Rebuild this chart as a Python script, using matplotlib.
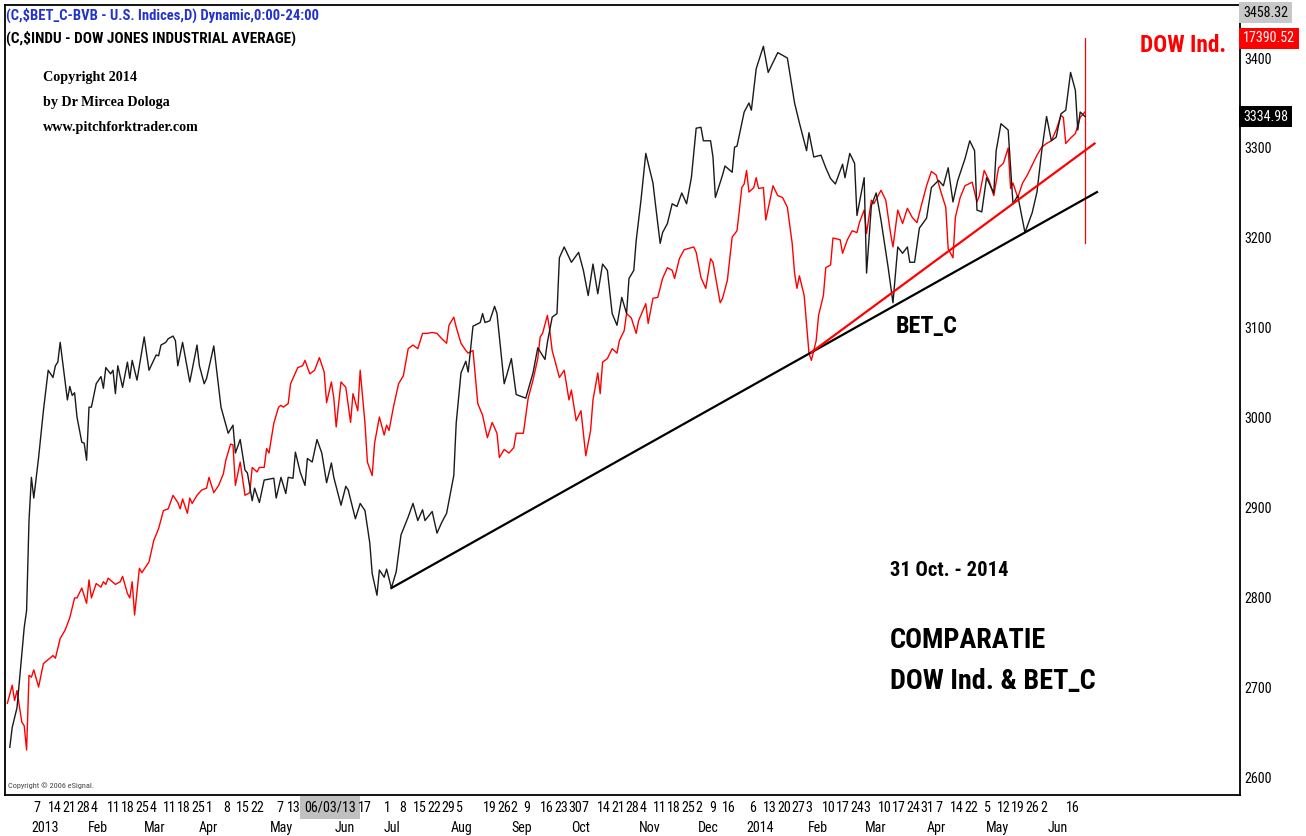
import os
import matplotlib
matplotlib.use("Agg")
import matplotlib.pyplot as plt
import matplotlib.transforms as mtrans
from matplotlib import font_manager
from matplotlib.font_manager import FontProperties

# ---------------- fonts: prefer a narrow sans (Arial Narrow look), else Liberation Sans ----------------
_files = font_manager.findSystemFonts()


def _pick(cands):
    low = {os.path.basename(f).lower(): f for f in _files}
    for c in cands:
        if c.lower() in low:
            return low[c.lower()]
    return None


_reg = _pick(['LiberationSansNarrow-Regular.ttf', 'RobotoCondensed-Regular.ttf', 'Roboto_Condensed-Regular.ttf',
              'NotoSans-Condensed.ttf', 'OpenSans-CondensedRegular.ttf', 'OpenSans_Condensed-Regular.ttf'])
_bold = _pick(['LiberationSansNarrow-Bold.ttf', 'RobotoCondensed-Bold.ttf', 'Roboto_Condensed-Bold.ttf',
               'NotoSans-CondensedBold.ttf', 'OpenSans-CondensedBold.ttf', 'OpenSans_Condensed-Bold.ttf'])


def narrow(bold=False):
    if bold and _bold:
        return FontProperties(fname=_bold)
    if (not bold) and _reg:
        return FontProperties(fname=_reg)
    return FontProperties(family=['Liberation Sans', 'DejaVu Sans'], weight='bold' if bold else 'normal')


def serif_bold():
    return FontProperties(family=['Liberation Serif', 'DejaVu Serif'], weight='bold')


# ---------------- data (bar index, index value on the BET_C scale) ----------------
bet_x = [2, 3, 5, 8, 9, 10, 11, 12, 14, 16, 18, 20, 21, 22, 23, 26, 27, 28, 29, 30,
         32, 33, 34, 35, 36, 38, 40, 41, 42, 44, 45, 46, 47, 49, 51, 52, 53, 55, 58, 60,
         63, 64, 65, 67, 68, 70, 71, 72, 74, 77, 80, 81, 83, 84, 87, 90, 93, 95, 96, 98,
         100, 101, 103, 104, 106, 108, 112, 113, 115, 117, 118, 120, 121, 123, 125, 126, 128, 130, 132, 134,
         136, 137, 140, 142, 143, 146, 148, 150, 152, 153, 155, 156, 158, 159, 161, 163, 165, 168, 170, 172,
         174, 175, 178, 180, 182, 184, 187, 188, 190, 192, 193, 195, 198, 199, 200, 202, 204, 205, 208, 209,
         211, 213, 217, 220, 222, 225, 226, 228, 230, 231, 233, 236, 239, 241, 243, 245, 247, 249, 251, 253,
         255, 257, 259, 260, 262, 263, 265, 267, 270, 271, 273, 274, 276, 278, 280, 282, 284, 286, 288, 290,
         291, 294, 295, 296, 299, 300, 303, 304, 305, 308, 310, 311, 313, 316, 318, 322, 324, 326, 329, 331,
         334, 335, 337, 340, 342, 344, 346, 349, 350, 352, 354, 355, 358, 359, 361, 363, 365, 368, 370, 372,
         374, 376, 377, 379, 381, 384, 386, 389, 391, 393, 395, 397, 400, 402, 404, 405, 407, 409, 412, 413,
         415, 418, 420, 422, 425, 428, 430, 432, 434, 436, 438, 440, 442, 444, 446, 447, 448, 450]
bet_v = [2634, 2656, 2678, 2767, 2786, 2886, 2934, 2911, 2956, 3008, 3053, 3045, 3058, 3062, 3084, 3020, 3035, 3025, 3028, 3001,
         2973, 2972, 2953, 3012, 3012, 3038, 3046, 3033, 3056, 3049, 3053, 3027, 3058, 3034, 3062, 3044, 3064, 3042, 3090, 3053,
         3070, 3069, 3081, 3084, 3088, 3091, 3086, 3058, 3084, 3040, 3081, 3058, 3038, 3044, 3080, 3012, 2983, 2992, 2961, 2976,
         2942, 2939, 2908, 2922, 2906, 2931, 2933, 2911, 2934, 2916, 2934, 2933, 2962, 2940, 2925, 2955, 2951, 2976, 2961, 2928,
         2950, 2934, 2903, 2924, 2920, 2888, 2905, 2897, 2861, 2827, 2803, 2831, 2823, 2832, 2811, 2829, 2870, 2890, 2905, 2886,
         2898, 2886, 2896, 2872, 2884, 2894, 2936, 2994, 3050, 3063, 3051, 3102, 3106, 3116, 3106, 3108, 3124, 3116, 3038, 3047,
         3066, 3026, 3022, 3050, 3078, 3065, 3084, 3112, 3116, 3178, 3190, 3173, 3184, 3164, 3136, 3171, 3138, 3171, 3164, 3116,
         3103, 3134, 3116, 3155, 3164, 3197, 3242, 3294, 3261, 3238, 3194, 3206, 3216, 3238, 3235, 3250, 3238, 3267, 3322, 3323,
         3308, 3308, 3290, 3245, 3270, 3280, 3273, 3301, 3302, 3340, 3350, 3342, 3388, 3413, 3384, 3406, 3403, 3400, 3350, 3328,
         3297, 3317, 3290, 3292, 3278, 3266, 3260, 3282, 3267, 3294, 3283, 3225, 3267, 3161, 3236, 3250, 3220, 3167, 3128, 3190,
         3183, 3190, 3173, 3173, 3211, 3222, 3256, 3264, 3258, 3278, 3240, 3264, 3288, 3308, 3297, 3231, 3229, 3267, 3250, 3297,
         3327, 3320, 3238, 3247, 3206, 3228, 3251, 3297, 3335, 3308, 3312, 3338, 3342, 3384, 3364, 3320, 3340, 3335]

dow_x = [1, 3, 4, 5, 7, 8, 9, 10, 11, 12, 14, 16, 20, 21, 23, 25, 27, 29, 30, 32,
         34, 35, 36, 38, 40, 41, 42, 43, 46, 48, 49, 51, 52, 53, 54, 56, 57, 60, 62, 64,
         66, 68, 70, 72, 73, 74, 76, 77, 78, 80, 82, 84, 85, 87, 89, 91, 92, 94, 95, 96,
         98, 100, 102, 103, 105, 106, 108, 109, 110, 112, 114, 115, 116, 118, 119, 120, 122, 124, 125, 127,
         129, 131, 133, 134, 136, 137, 138, 140, 142, 144, 145, 147, 148, 150, 151, 153, 154, 156, 158, 159,
         160, 162, 164, 166, 168, 170, 172, 174, 176, 178, 180, 182, 184, 185, 187, 188, 190, 192, 193, 195,
         197, 199, 201, 203, 205, 206, 208, 210, 212, 213, 216, 218, 220, 222, 223, 224, 226, 227, 228, 231,
         233, 235, 236, 238, 240, 242, 244, 245, 247, 248, 249, 251, 253, 255, 256, 258, 259, 261, 263, 264,
         267, 268, 270, 272, 274, 276, 278, 279, 281, 283, 287, 288, 290, 292, 294, 295, 298, 299, 301, 303,
         305, 306, 307, 308, 309, 310, 312, 313, 314, 316, 317, 320, 322, 324, 326, 328, 329, 330, 331, 333,
         335, 336, 338, 339, 341, 342, 344, 345, 348, 349, 351, 353, 355, 356, 358, 359, 361, 362, 365, 367,
         369, 370, 372, 374, 376, 378, 380, 382, 384, 386, 388, 390, 392, 393, 395, 396, 398, 400, 403, 405,
         406, 408, 410, 412, 414, 416, 418, 419, 420, 422, 424, 426, 428, 430, 432, 434, 436, 438, 440, 441,
         442, 444, 446, 448, 450]
dow_v = [2683, 2703, 2686, 2697, 2662, 2658, 2631, 2714, 2712, 2720, 2701, 2727, 2736, 2733, 2755, 2764, 2778, 2800, 2800, 2811,
         2794, 2820, 2800, 2816, 2812, 2818, 2815, 2822, 2815, 2818, 2824, 2805, 2800, 2818, 2781, 2833, 2828, 2840, 2864, 2877,
         2897, 2899, 2914, 2906, 2899, 2910, 2894, 2911, 2905, 2914, 2920, 2922, 2934, 2917, 2925, 2938, 2953, 2971, 2970, 2925,
         2951, 2914, 2917, 2945, 2940, 2945, 2945, 2966, 2961, 2994, 3012, 3014, 3012, 3016, 3038, 3044, 3056, 3058, 3064, 3049,
         3053, 3067, 3051, 3017, 3040, 3022, 2990, 3040, 3034, 2995, 3027, 3008, 3053, 2994, 2951, 2936, 2972, 3001, 2981, 2992,
         2986, 3014, 3038, 3047, 3077, 3081, 3077, 3094, 3094, 3095, 3094, 3088, 3083, 3103, 3112, 3101, 3083, 3075, 3072, 3075,
         3016, 3003, 2978, 2995, 2983, 2956, 2965, 2961, 2967, 2983, 2983, 3022, 3042, 3066, 3090, 3094, 3114, 3097, 3075, 3045,
         3053, 3020, 3031, 2997, 3008, 2958, 2986, 3020, 3050, 3027, 3062, 3066, 3077, 3072, 3086, 3097, 3116, 3111, 3094, 3108,
         3127, 3105, 3133, 3134, 3155, 3167, 3164, 3155, 3177, 3187, 3190, 3184, 3156, 3144, 3177, 3173, 3128, 3133, 3153, 3201,
         3208, 3231, 3256, 3260, 3275, 3251, 3256, 3267, 3255, 3256, 3220, 3258, 3247, 3245, 3234, 3194, 3161, 3144, 3158, 3136,
         3072, 3064, 3086, 3114, 3136, 3167, 3170, 3200, 3198, 3183, 3198, 3208, 3206, 3217, 3231, 3205, 3242, 3238, 3253, 3242,
         3205, 3190, 3231, 3216, 3233, 3223, 3217, 3238, 3258, 3274, 3270, 3251, 3234, 3188, 3178, 3223, 3245, 3258, 3262, 3240,
         3247, 3275, 3264, 3247, 3278, 3283, 3300, 3255, 3261, 3245, 3261, 3270, 3281, 3292, 3301, 3305, 3308, 3320, 3336, 3334,
         3305, 3311, 3316, 3334, 3340]

# trend lines (bar, value) end points
bet_trend_x = [161, 455]
bet_trend_v = [2811, 3251]
dow_trend_x = [336, 454]
dow_trend_v = [3073, 3305]
cursor_x = 450
cursor_v = [3194, 3422]

y_ticks = [2600, 2700, 2800, 2900, 3000, 3100, 3200, 3300, 3400]
bet_high = 3458.32
bet_last = 3334.98
dow_last = 17390.52
dow_last_level = 3422

day_labels = ['7', '14', '21', '28', '4', '11', '18', '25', '4', '11', '18', '25', '1', '8', '15', '22',
              '7', '13', '06/03/13', '17', '1', '8', '15', '22', '29', '5', '19', '26', '2', '9',
              '16', '23', '30', '7', '14', '21', '28', '4', '11', '18', '25', '2', '9', '16', '6',
              '13', '20', '27', '3', '10', '17', '24', '3', '10', '17', '24', '31', '7', '14', '22',
              '5', '12', '19', '26', '2', '16']
day_pos = [13.3, 20.8, 26.7, 32.5, 37.1, 45.4, 51.3, 57.1, 61.7, 68.75, 74.6, 80.4, 85.0, 92.5, 99.2, 105.0,
           114.6, 120.4, 135.4, 150.0, 159.2, 165.8, 172.9, 178.75, 184.6, 189.2, 202.1, 207.9, 212.1, 217.5,
           225.8, 231.7, 237.5, 241.7, 249.6, 255.4, 261.25, 265.8, 272.9, 278.75, 284.6, 289.2, 295.0, 301.7, 311.7,
           318.75, 324.6, 330.4, 335.0, 343.3, 349.2, 355.0, 359.2, 366.7, 372.5, 378.3, 384.2, 389.2, 396.7, 402.5,
           409.2, 416.25, 422.1, 427.9, 432.9, 445.0]
month_labels = ['2013', 'Feb', 'Mar', 'Apr', 'May', 'Jun', 'Jul', 'Aug', 'Sep', 'Oct', 'Nov', 'Dec',
                '2014', 'Feb', 'Mar', 'Apr', 'May', 'Jun']
month_pos = [16.7, 38.75, 62.5, 84.6, 115.4, 141.7, 161.25, 190.4, 215.4, 240.0, 268.75, 292.9,
             314.6, 338.75, 362.9, 387.9, 413.75, 438.75]

# ---------------- figure ----------------
W, H = 1306, 836
fig = plt.figure(figsize=(W / 100, H / 100), dpi=100)
fig.patch.set_facecolor('white')
ax = fig.add_axes([5 / W, 1 - 795 / H, 1235 / W, 790 / H])
ax.set_xlim(0, 514.6)
ax.set_ylim(2581, 3458.9)
renderer = fig.canvas.get_renderer()


def fit(t, target_px):
    w = t.get_window_extent(renderer).width
    if w > 0:
        t.set_fontsize(t.get_fontsize() * target_px / w)
    return t.get_fontsize()


RED = '#ff0000'
ax.plot(dow_x, dow_v, color=RED, lw=1.0, zorder=3)
ax.plot(bet_x, bet_v, color='#1a1a1a', lw=1.0, zorder=4)
ax.plot(bet_trend_x, bet_trend_v, color='black', lw=1.6, zorder=5)
ax.plot(dow_trend_x, dow_trend_v, color=RED, lw=1.6, zorder=5)
ax.plot([cursor_x, cursor_x], cursor_v, color=RED, lw=0.9, zorder=2)

for s in ax.spines.values():
    s.set_linewidth(1.3)
    s.set_color('black')

# size of axis label font: "3400" is about 28 px wide in the reference
probe = fig.text(0, 0, '3400', fontproperties=narrow(), fontsize=11)
tick_size = fit(probe, 28)
probe.remove()

# right axis labels
ax.yaxis.tick_right()
ax.set_yticks(y_ticks)
ax.set_yticklabels([str(t) for t in y_ticks])
for lbl in ax.get_yticklabels():
    lbl.set_fontproperties(narrow())
    lbl.set_fontsize(tick_size)
ax.tick_params(axis='y', length=0, pad=3)

trY = mtrans.blended_transform_factory(ax.transAxes, ax.transData)
xr = 1 + 3 / 1235
ax.text(xr, bet_high, f'{bet_high:.2f}', transform=trY, ha='left', va='top', fontproperties=narrow(),
        fontsize=tick_size, color='black', bbox=dict(facecolor='#c8c8c8', edgecolor='none', pad=2.5), clip_on=False)
ax.text(xr, dow_last_level, f'{dow_last:.2f}', transform=trY, ha='left', va='center', fontproperties=narrow(),
        fontsize=tick_size, color='white', bbox=dict(facecolor=RED, edgecolor='none', pad=2.5), clip_on=False)
ax.text(xr, bet_last, f'{bet_last:.2f}', transform=trY, ha='left', va='center', fontproperties=narrow(),
        fontsize=tick_size, color='white', bbox=dict(facecolor='black', edgecolor='none', pad=2.5), clip_on=False)

# bottom axis labels
ax.xaxis.remove_overlapping_locs = False
ax.set_xticks(day_pos)
ax.set_xticklabels(day_labels)
ax.set_xticks(month_pos, minor=True)
ax.set_xticklabels(month_labels, minor=True)
for lbl in ax.get_xticklabels() + ax.get_xticklabels(minor=True):
    lbl.set_fontproperties(narrow())
    lbl.set_fontsize(tick_size)
ax.tick_params(axis='x', which='major', length=0, pad=4)
ax.tick_params(axis='x', which='minor', length=0, pad=19)
for lbl in ax.get_xticklabels():
    if lbl.get_text() == '06/03/13':
        lbl.set_bbox(dict(facecolor='#c0c0c0', edgecolor='none', pad=3))

# header texts
h1 = fig.text(6 / W, 1 - 15 / H, r'(C,\$BET_C-BVB - U.S. Indices,D) Dynamic,0:00-24:00', color='#2233cc',
              fontproperties=narrow(True), fontsize=11, va='center', ha='left')
fit(h1, 311)
h2 = fig.text(6 / W, 1 - 38 / H, r'(C,\$INDU - DOW JONES INDUSTRIAL AVERAGE)', color='black',
              fontproperties=narrow(True), fontsize=11, va='center', ha='left')
fit(h2, 290)

copy_lines = ['Copyright 2014', 'by Dr Mircea Dologa', 'www.pitchforktrader.com']
copy_texts = [fig.text(43 / W, 1 - (78 + 24.5 * i) / H, line, fontproperties=serif_bold(), fontsize=11.5,
                       va='center', ha='left') for i, line in enumerate(copy_lines)]
cs = fit(copy_texts[2], 156)
for t in copy_texts:
    t.set_fontsize(cs)

es = fig.text(8 / W, 1 - 786 / H, 'Copyright \u00a9 2006 eSignal.', fontproperties=narrow(), fontsize=6,
              color='#444444', va='center', ha='left')
fit(es, 86)

t = fig.text(1226 / W, 1 - 45 / H, 'DOW Ind.', color=RED, fontproperties=narrow(True), fontsize=19,
             va='center', ha='right')
fit(t, 86)
t = fig.text(896 / W, 1 - 327 / H, 'BET_C', color='black', fontproperties=narrow(True), fontsize=18,
             va='center', ha='left')
fit(t, 62)
t = fig.text(890 / W, 1 - 570 / H, '31 Oct. - 2014', color='black', fontproperties=narrow(True), fontsize=15,
             va='center', ha='left')
fit(t, 118)
c1 = fig.text(890 / W, 1 - 640 / H, 'COMPARATIE', color='black', fontproperties=narrow(True), fontsize=21,
              va='center', ha='left')
c2 = fig.text(890 / W, 1 - 681 / H, 'DOW Ind. & BET_C', color='black', fontproperties=narrow(True), fontsize=21,
              va='center', ha='left')
fit(c2, 205)
c1.set_fontsize(c2.get_fontsize())

fig.savefig('out.png', dpi=100)
